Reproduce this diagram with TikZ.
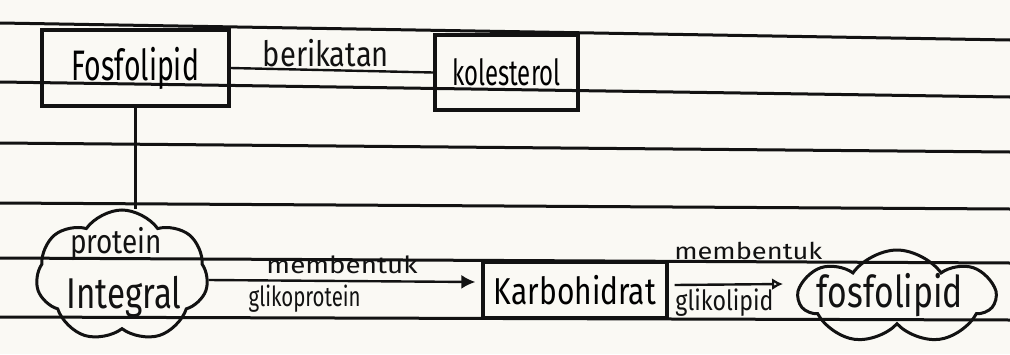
\documentclass[tikz,border=0pt]{standalone}
\usepackage{fontspec}
\setmainfont{Fira Sans}
\usetikzlibrary{shapes.symbols,arrows.meta}
\definecolor{paper}{RGB}{250,249,244}
\definecolor{ink}{RGB}{18,18,18}
\newcommand{\hw}[3]{\scalebox{1}[#2]{\resizebox{#1pt}{!}{#3}}}
\begin{document}
\begin{tikzpicture}[x=1pt,y=-1pt,
  rule/.style={draw=ink, line width=3pt},
  box/.style={draw=ink, line width=3.2pt, rectangle, inner sep=0pt},
  cloudy/.style={draw=ink, line width=3pt, cloud, cloud ignores aspect, inner sep=0pt},
  link/.style={draw=ink, line width=2.4pt},
  lbl/.style={inner sep=1pt, text=ink}]
\fill[paper] (0,0) rectangle (1010,354);
\useasboundingbox (0,0) rectangle (1010,354);
% ruled paper lines
\draw[rule] (0,23) -- (1010,40);
\draw[rule] (0,82) -- (1010,97);
\draw[rule] (0,143) -- (1010,152);
\draw[rule] (0,203) -- (1010,209);
\draw[rule] (0,258) -- (1010,263);
\draw[rule] (0,317) -- (1010,320);
% nodes
\node[box, minimum width=187pt, minimum height=76pt] (fos) at (135.5,68) {\hw{127}{1.5}{Fosfolipid}};
\node[box, minimum width=143pt, minimum height=75pt] (kol) at (506.5,72.5) {\hw{108}{1.5}{kolesterol}};
\node[box, minimum width=184pt, minimum height=56pt] (karb) at (575,290) {\hw{162}{1.25}{Karbohidrat}};
\node[cloudy, cloud puffs=7, cloud puff arc=110, minimum width=172pt, minimum height=132pt] (pi) at (122,276) {};
\node[lbl] (pitop) at (116,244) {\hw{92}{1.2}{protein}};
\node[lbl] (pibot) at (124,297) {\hw{115}{1.3}{Integral}};
\node[cloudy, cloud puffs=7, cloud puff arc=110, minimum width=195pt, minimum height=94pt] (fl) at (897,297) {};
\node[lbl] (fltext) at (890,295) {\hw{146}{1.3}{fosfolipid}};
% connectors
\draw[link] (fos.east) -- node[lbl, above=1pt, pos=0.47] {\hw{126}{1.2}{berikatan}} (kol.west);
\draw[link] (fos.south) -- (fos.south |- pi.north);
\draw[link, -{Latex[length=14pt,width=14pt]}] ([yshift=-4pt]pi.east) --
  node[lbl, above=5pt, pos=0.5] {\hw{151}{0.85}{membentuk}}
  node[lbl, below=2pt, pos=0.36] {\hw{112}{1.35}{glikoprotein}}
  ([xshift=-6pt,yshift=8pt]karb.west);
\draw[link, -{Latex[open,length=11pt,width=12pt]}] ([xshift=6pt,yshift=5pt]karb.east) --
  node[lbl, above=22pt, pos=0.68] {\hw{148}{0.85}{membentuk}}
  node[lbl, below=2pt, pos=0.46] {\hw{98}{1.2}{glikolipid}}
  ([xshift=-13pt,yshift=13pt]fl.west);
\end{tikzpicture}
\end{document}
